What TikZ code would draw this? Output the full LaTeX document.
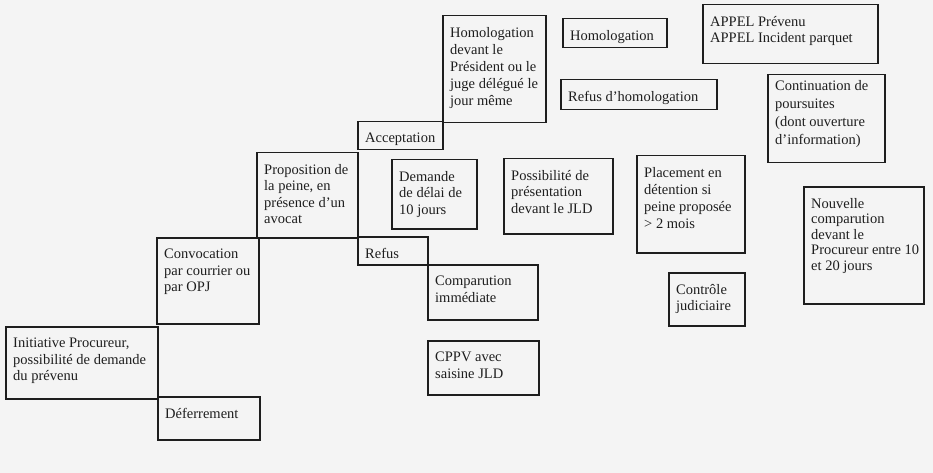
\documentclass[tikz,border=0pt]{standalone}
\usepackage{fontspec}
\setmainfont{Liberation Serif}
\definecolor{trait}{RGB}{30,30,30}
\definecolor{fond}{RGB}{244,244,244}

\begin{document}
\begin{tikzpicture}[x=1pt,y=-1pt,
  boite/.style={draw=trait,line width=1.5pt,anchor=north west,inner sep=0pt},
  texte/.style={anchor=north west,align=left,inner xsep=8pt,inner ysep=12pt,text=trait,
    font=\fontsize{14.5}{16.5}\selectfont}]
  % fond de page
  \fill[fond] (0,0) rectangle (933,473);
  \useasboundingbox (0,0) rectangle (933,473);

  % escalier de gauche
  \node[boite,minimum width=152pt,minimum height=72pt] (init) at (5,326) {};
  \node[texte] (init-t) at (init.north west) {Initiative Procureur,\\possibilité de demande\\du prévenu};
  \node[boite,minimum width=102pt,minimum height=86pt] (conv) at (156,237) {};
  \node[texte] (conv-t) at (conv.north west) {Convocation\\par courrier ou\\par OPJ};
  \node[boite,minimum width=102pt,minimum height=43pt] (defe) at (157,396) {};
  \node[texte] (defe-t) at (defe.north west) {Déferrement};
  \node[boite,minimum width=101pt,minimum height=85pt] (prop) at (256,152) {};
  \node[texte] (prop-t) at (prop.north west) {Proposition de\\la peine, en\\présence d’un\\avocat};

  % acceptation / refus
  \node[boite,minimum width=85pt,minimum height=28pt] (acce) at (357,121) {};
  \node[texte] (acce-t) at (acce.north west) {Acceptation};
  \node[boite,minimum width=70pt,minimum height=28pt] (refu) at (357,236) {};
  \node[texte] (refu-t) at (refu.north west) {Refus};
  \node[boite,minimum width=85pt,minimum height=69pt] (dema) at (391,159) {};
  \node[texte] (dema-t) at (dema.north west) {Demande\\de délai de\\10 jours};
  \node[boite,minimum width=110pt,minimum height=55pt] (comp) at (427,264) {};
  \node[texte] (comp-t) at (comp.north west) {Comparution\\immédiate};
  \node[boite,minimum width=111pt,minimum height=54pt] (cppv) at (427,340) {};
  \node[texte] (cppv-t) at (cppv.north west) {CPPV avec\\saisine JLD};

  % homologation
  \node[boite,minimum width=103pt,minimum height=107pt] (homd) at (442,15) {};
  \node[texte,font=\fontsize{14.5}{17}\selectfont] (homd-t) at (homd.north west) {Homologation\\devant le\\Président ou le\\juge délégué le\\jour même};
  \node[boite,minimum width=104pt,minimum height=29pt] (homo) at (562,18) {};
  \node[texte] (homo-t) at (homo.north west) {Homologation};
  \node[boite,minimum width=156pt,minimum height=30pt] (refh) at (560,79) {};
  \node[texte] (refh-t) at (refh.north west) {Refus d’homologation};
  \node[boite,minimum width=175pt,minimum height=59pt] (appe) at (702,4) {};
  \node[texte] (appe-t) at (appe.north west) {APPEL Prévenu\\APPEL Incident parquet};
  \node[boite,minimum width=117pt,minimum height=88pt] (cont) at (767,74) {};
  \node[texte,inner ysep=6pt,font=\fontsize{14.5}{18}\selectfont] (cont-t) at (cont.north west) {Continuation de\\poursuites\\(dont ouverture\\d’information)};

  % suites du delai
  \node[boite,minimum width=109pt,minimum height=75pt] (poss) at (503,158) {};
  \node[texte] (poss-t) at (poss.north west) {Possibilité de\\présentation\\devant le JLD};
  \node[boite,minimum width=108pt,minimum height=97pt] (plac) at (636,155) {};
  \node[texte,font=\fontsize{14.5}{17}\selectfont] (plac-t) at (plac.north west) {Placement en\\détention si\\peine proposée\\> 2 mois};
  \node[boite,minimum width=76pt,minimum height=53pt] (ctrl) at (668,272) {};
  \node[texte] (ctrl-t) at (ctrl.north west) {Contrôle\\judiciaire};
  \node[boite,minimum width=120pt,minimum height=117pt] (nouv) at (803,186) {};
  \node[texte,font=\fontsize{14.5}{15.5}\selectfont] (nouv-t) at (nouv.north west) {Nouvelle\\comparution\\devant le\\Procureur entre 10\\et 20 jours};
\end{tikzpicture}
\end{document}
